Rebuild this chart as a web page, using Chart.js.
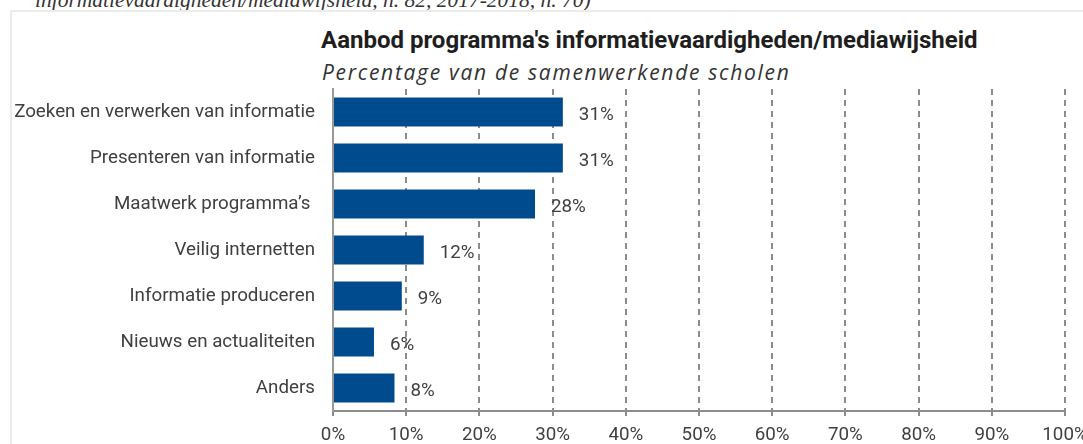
<!DOCTYPE html>
<html lang="nl">
<head>
    <meta charset="utf-8">
    <script src="https://cdn.jsdelivr.net/npm/chart.js@4.4.1/dist/chart.umd.min.js"></script>
    <style>
        body { margin: 0; background: #fff; }
        #wrap { position: relative; width: 1083px; height: 444px; overflow: hidden; }
        #wrap canvas { position: absolute; left: 0; top: 0; }
        .frame { position: absolute; left: 10px; top: 10px; width: 1100px; height: 500px;
                 border-top: 2px solid #ececec; border-left: 2px solid #ececec; }
        .source { position: absolute; left: 35px; top: -12px; line-height: 20px; white-space: nowrap;
                  font: italic 21.5px "Liberation Serif", serif; color: #333; }
        .title { position: absolute; left: 321px; top: 26px; line-height: 24px; white-space: nowrap;
                 font: bold 24px Roboto, sans-serif; color: #1e1e1e; }
        .subtitle { position: absolute; left: 322px; top: 58px; line-height: 20px; white-space: nowrap;
                    font: italic 21px "Open Sans", sans-serif; letter-spacing: 1.7px; color: #333; }
    </style>
</head>
<body>

<div id="wrap">
    <div class="source">informatievaardigheden/mediawijsheid, n. 82, 2017-2018, n. 70)</div>
    <div class="frame"></div>
    <div class="title">Aanbod programma's informatievaardigheden/mediawijsheid</div>
    <div class="subtitle">Percentage van de samenwerkende scholen</div>
    <canvas id="chart" width="1083" height="444"></canvas>
</div>

<script>
    const labels = ["Zoeken en verwerken van informatie", "Presenteren van informatie", "Maatwerk programma’s ",
                    "Veilig internetten", "Informatie produceren", "Nieuws en actualiteiten", "Anders"];
    const values = [31.4, 31.4, 27.6, 12.4, 9.4, 5.6, 8.4]; // % of schools

    const grey = "#8c8c8c";
    const textColor = "#404040";
    const font = { family: "Roboto", size: 18.75 };

    // percentage next to each bar
    const valueLabels = {
        id: "valueLabels",
        afterDatasetsDraw(chart) {
            const ctx = chart.ctx;
            const meta = chart.getDatasetMeta(0);
            ctx.save();
            ctx.font = "18.75px Roboto";
            ctx.fillStyle = textColor;
            ctx.textAlign = "left";
            ctx.textBaseline = "middle";
            meta.data.forEach((bar, i) => {
                ctx.fillText(Math.round(values[i]) + "%", bar.x + 16, bar.y + 3);
            });
            ctx.restore();
        }
    };

    const ch = new Chart(document.getElementById("chart"), {
        type: "bar",
        data: {
            labels: labels,
            datasets: [{
                data: values,
                backgroundColor: "#004b8d",
                categoryPercentage: 1,
                barPercentage: 0.63
            }]
        },
        options: {
            indexAxis: "y",
            responsive: false,
            animation: false,
            devicePixelRatio: 1,
            layout: { padding: { top: 89, right: 18, left: 0, bottom: 0 } },
            plugins: { legend: { display: false }, tooltip: { enabled: false } },
            scales: {
                x: {
                    min: 0,
                    max: 100,
                    ticks: { stepSize: 10, color: textColor, font: font, padding: 8,
                             callback: v => v + "%" },
                    grid: { color: grey, lineWidth: 2, tickLength: 5,
                            tickColor: grey, tickWidth: 2, tickBorderDash: [] },
                    border: { color: grey, width: 2, dash: [6, 5] },
                    afterFit(scale) { scale.height = 33; scale.paddingLeft = 0; scale.paddingRight = 0; }
                },
                y: {
                    ticks: { color: textColor, font: font, padding: 18 },
                    grid: { display: false, drawTicks: false },
                    border: { color: "#999", width: 2 },
                    afterFit(scale) { scale.width = 333; }
                }
            }
        },
        plugins: [valueLabels]
    });
</script>

</body>
</html>
